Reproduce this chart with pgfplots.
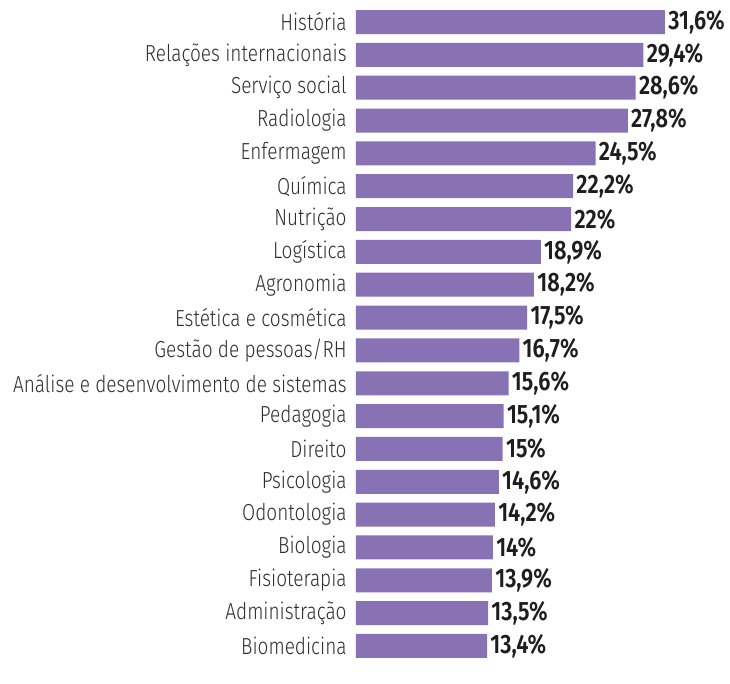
\documentclass[border=0pt]{standalone}
\usepackage{fontspec}
\setmainfont{Fira Sans}[FakeStretch=0.82, UprightFont=* Light, BoldFont=* SemiBold]
\usepackage{pgfplots}
\pgfplotsset{compat=1.18}
\definecolor{barc}{HTML}{8872B4}
\definecolor{lab}{HTML}{2E2E2E}
\definecolor{val}{HTML}{1E1E1E}
\begin{document}
\begin{tikzpicture}
\useasboundingbox (0,0) rectangle (365pt,342pt);
\begin{axis}[
  at={(178pt,10.8pt)}, anchor=south west,
  scale only axis, width=154.5pt, height=328.4pt,
  xmin=0, xmax=31.6, ymin=-0.5, ymax=19.5, y dir=reverse,
  xbar, bar width=12pt, bar shift=0pt,
  hide x axis,
  axis y line*=left, y axis line style={draw=none},
  major tick length=0pt,
  ytick={0,...,19},
  yticklabels={História,Relações internacionais,Serviço social,Radiologia,Enfermagem,Química,Nutrição,Logística,Agronomia,Estética e cosmética,Gestão de pessoas/RH,Análise e desenvolvimento de sistemas,Pedagogia,Direito,Psicologia,Odontologia,Biologia,Fisioterapia,Administração,Biomedicina},
  yticklabel style={font=\fontsize{11.6}{13}\selectfont, text=lab, anchor=east, inner sep=0pt, xshift=-4.5pt},
  clip=false,
  point meta=x,
  nodes near coords={\pgfmathprintnumber[use comma,fixed,precision=1,assume math mode=true]{\pgfplotspointmeta}\%},
  every node near coord/.append style={font=\bfseries\fontsize{13.3}{15}\selectfont, text=val, anchor=west, inner sep=0pt, xshift=1.5pt},
]
\addplot[fill=barc, draw=none] table[x=v, y=i] {
i v
0 31.6
1 29.4
2 28.6
3 27.8
4 24.5
5 22.2
6 22
7 18.9
8 18.2
9 17.5
10 16.7
11 15.6
12 15.1
13 15
14 14.6
15 14.2
16 14
17 13.9
18 13.5
19 13.4
};
\end{axis}
\end{tikzpicture}
\end{document}
